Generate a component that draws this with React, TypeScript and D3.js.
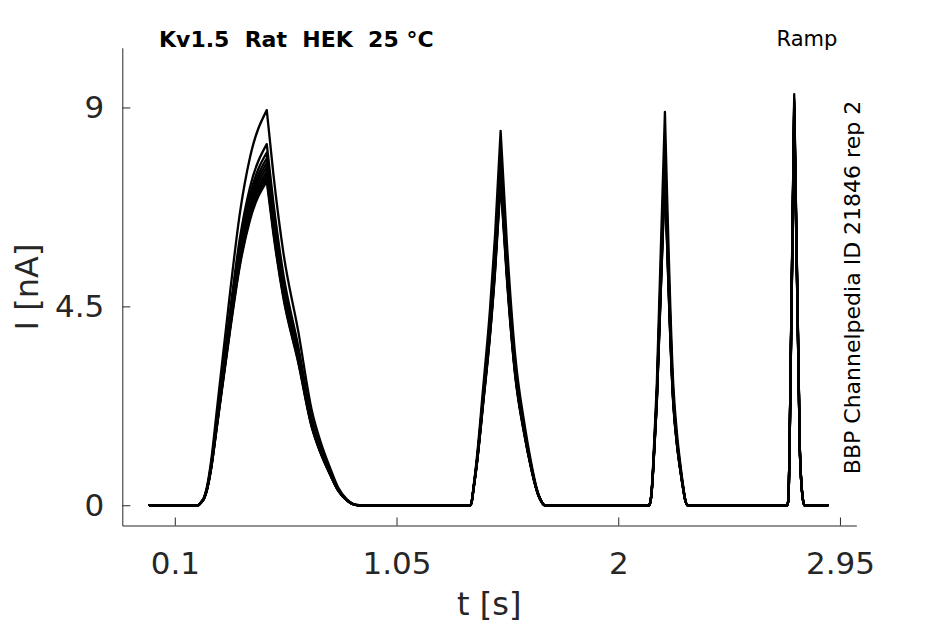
import * as d3 from "d3";
import { useRef, useEffect } from "react";

const xTicks = [0.1, 1.05, 2, 2.95];
const yTicks = [0, 4.5, 9];

// peak current (nA) of each sweep, one array per ramp
const ramp1Peaks = [8.94, 8.17, 7.98, 7.85, 7.75, 7.65, 7.55, 7.48, 7.4, 7.33];
const ramp2Peaks = [8.47, 7.95, 7.85, 7.75, 7.68, 7.6, 7.52, 7.45, 7.38, 7.3];
const ramp3Peaks = [8.9, 8.2, 8.05, 7.95, 7.85, 7.75, 7.7, 7.6, 7.5, 7.45];
const ramp4Peaks = [9.3, 9.2, 9.15, 9.1, 9.05, 9.0, 8.95, 8.9, 8.85, 8.8];

// response shape of each ramp: time (s) and fraction of the sweep's peak
const ramp1Times = [0.2, 0.212, 0.225, 0.237, 0.255, 0.28, 0.337, 0.379, 0.422, 0.494, 0.522, 0.565, 0.629, 0.687, 0.725, 0.765, 0.8, 0.837, 0.865, 0.89];
const ramp1Shape = [0, 0.008, 0.02, 0.045, 0.11, 0.24, 0.54, 0.74, 0.88, 1, 0.84, 0.64, 0.44, 0.24, 0.16, 0.095, 0.045, 0.015, 0.003, 0];
const ramp2Times = [1.366, 1.372, 1.38, 1.393, 1.422, 1.45, 1.472, 1.496, 1.522, 1.557, 1.6, 1.625, 1.643, 1.658, 1.67, 1.685];
const ramp2Shape = [0, 0.01, 0.05, 0.12, 0.32, 0.52, 0.72, 1, 0.71, 0.41, 0.21, 0.12, 0.065, 0.03, 0.012, 0];
const ramp3Times = [2.132, 2.137, 2.142, 2.15, 2.165, 2.2, 2.236, 2.252, 2.265, 2.278, 2.287, 2.297];
const ramp3Shape = [0, 0.008, 0.03, 0.11, 0.305, 1, 0.305, 0.18, 0.11, 0.05, 0.015, 0];
const ramp4Times = [2.724, 2.728, 2.731, 2.734, 2.754, 2.778, 2.784, 2.79, 2.797];
const ramp4Shape = [0, 0.01, 0.05, 0.14, 1, 0.14, 0.06, 0.02, 0];

const traceStart = -0.008;
const traceEnd = 2.898;

const ramps = [
  { times: ramp1Times, shape: ramp1Shape, peaks: ramp1Peaks },
  { times: ramp2Times, shape: ramp2Shape, peaks: ramp2Peaks },
  { times: ramp3Times, shape: ramp3Shape, peaks: ramp3Peaks },
  { times: ramp4Times, shape: ramp4Shape, peaks: ramp4Peaks },
];

// each sweep split at its peaks so the smoothing keeps the tips sharp
const sweeps = ramp1Peaks.map((_, i) => {
  const segs: [number, number][][] = [];
  let cur: [number, number][] = [[traceStart, 0]];
  ramps.forEach((r) =>
    r.times.forEach((t, j) => {
      const p: [number, number] = [t, r.shape[j] * r.peaks[i]];
      cur.push(p);
      if (r.shape[j] === 1) {
        segs.push(cur);
        cur = [p];
      }
    })
  );
  cur.push([traceEnd, 0]);
  segs.push(cur);
  return segs;
});

const W = 945;
const H = 624;
const axisColor = "#262626";
const font = "DejaVu Sans";

export default function App() {
  const x = d3.scaleLinear().domain([-0.125, 3.02]).range([122.3, 856.3]);
  const y = d3.scaleLinear().domain([-0.458, 10.35]).range([525.5, 47.8]);

  const line = d3
    .line<[number, number]>()
    .x((d) => x(d[0]))
    .y((d) => y(d[1]))
    .curve(d3.curveMonotoneX);

  const gx = useRef<SVGGElement>(null);
  const gy = useRef<SVGGElement>(null);

  useEffect(() => {
    d3.select(gx.current)
      .call(
        d3
          .axisBottom(x)
          .tickValues(xTicks)
          .tickFormat((d) => String(d))
          .tickSize(-8)
          .tickSizeOuter(0)
          .tickPadding(26)
      )
      .call((g) => g.select(".domain").attr("stroke", axisColor))
      .call((g) => g.selectAll(".tick line").attr("stroke", axisColor))
      .call((g) =>
        g
          .selectAll(".tick text")
          .attr("fill", axisColor)
          .attr("font-size", 31)
          .attr("font-family", font)
      );
    d3.select(gy.current)
      .call(
        d3
          .axisLeft(y)
          .tickValues(yTicks)
          .tickFormat((d) => String(d))
          .tickSize(-8)
          .tickSizeOuter(0)
          .tickPadding(18)
      )
      .call((g) => g.select(".domain").attr("stroke", axisColor))
      .call((g) => g.selectAll(".tick line").attr("stroke", axisColor))
      .call((g) =>
        g
          .selectAll(".tick text")
          .attr("fill", axisColor)
          .attr("font-size", 31)
          .attr("font-family", font)
      );
  });

  return (
    <svg
      width={W}
      height={H}
      style={{ position: "absolute", left: 0, top: 0, background: "white" }}
    >
      <rect width={W} height={H} fill="white" />
      <g
        fill="none"
        stroke="black"
        strokeWidth={2.3}
        strokeLinejoin="round"
        strokeLinecap="round"
      >
        {sweeps.map((segs, i) => (
          <path key={i} d={segs.map((s) => line(s) ?? "").join("")} />
        ))}
      </g>
      <g ref={gx} transform={`translate(0,${y.range()[0]})`} />
      <g ref={gy} transform={`translate(${x.range()[0]},0)`} />
      <text
        x={159}
        y={47}
        fontFamily={font}
        fontWeight="bold"
        fontSize={22}
        style={{ whiteSpace: "pre" }}
      >
        {"Kv1.5  Rat  HEK  25 °C"}
      </text>
      <text x={807} y={46} fontFamily={font} fontSize={21} textAnchor="middle">
        Ramp
      </text>
      <text
        transform="translate(859.5,287.5) rotate(-90)"
        fontFamily={font}
        fontSize={22}
        textAnchor="middle"
      >
        BBP Channelpedia ID 21846 rep 2
      </text>
      <text
        x={(x.range()[0] + x.range()[1]) / 2}
        y={615}
        fontFamily={font}
        fontSize={32}
        fill={axisColor}
        textAnchor="middle"
      >
        t [s]
      </text>
      <text
        transform="translate(38,287) rotate(-90)"
        fontFamily={font}
        fontSize={32}
        fill={axisColor}
        textAnchor="middle"
      >
        I [nA]
      </text>
    </svg>
  );
}
